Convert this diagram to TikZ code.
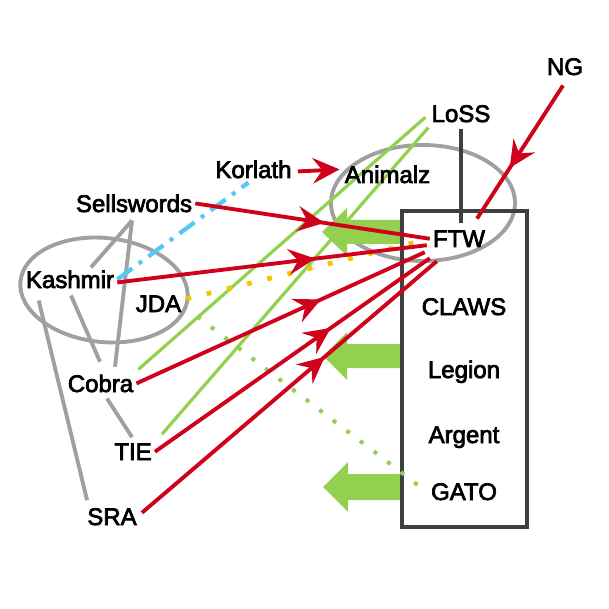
\documentclass[tikz,border=0pt]{standalone}
\usepackage{fontspec}
\setmainfont{Liberation Sans}
\newfontfamily\lblfont{Liberation Sans}[FakeBold=3]
\usetikzlibrary{arrows.meta,decorations.markings}
\definecolor{cred}{HTML}{D0021B}
\definecolor{cgreen}{HTML}{92D050}
\definecolor{cblue}{HTML}{55C8F5}
\definecolor{cyellow}{HTML}{F5C400}
\definecolor{cgray}{HTML}{A0A0A0}
\definecolor{cdark}{HTML}{404040}
\tikzset{redtip/.tip={Stealth[length=20pt,width=19pt,inset=7pt]}}
\pgfdeclarelayer{behind}
\pgfsetlayers{behind,main}
\begin{document}
\begin{tikzpicture}[x=0.75pt,y=-0.75pt,
  lbl/.style={anchor=base, inner sep=2.25pt, font=\lblfont\fontsize{18}{21}\selectfont},
  grayline/.style={draw=cgray, line width=2.9pt},
  darkline/.style={draw=cdark, line width=2.8pt},
  greenline/.style={draw=cgreen, line width=2.4pt},
  greendots/.style={draw=cgreen, line width=3pt, dash pattern=on 3pt off 9.8pt},
  yellowdots/.style={draw=cyellow, line width=3.6pt, dash pattern=on 3.6pt off 12pt},
  bluedash/.style={draw=cblue, line width=3.2pt, dash pattern=on 14pt off 6pt on 3pt off 6pt},
  redline/.style={draw=cred, line width=2.9pt},
  redmid/.style={redline, postaction={decorate},
    decoration={markings, mark=at position #1 with {\arrow{redtip}}}},
  blockarrow/.style={fill=cgreen, draw=none}
]
\useasboundingbox (0,0) rectangle (609,609);

% labels
\node[lbl] (NG) at (565,75) {NG};
\node[lbl] (LoSS) at (461,122) {LoSS};
\node[lbl] (Korlath) at (253.5,178) {Korlath};
\node[lbl] (Animalz) at (387.5,183) {Animalz};
\node[lbl] (Sellswords) at (134,212) {Sellswords};
\node[lbl] (FTW) at (459,247) {FTW};
\node[lbl] (Kashmir) at (70,288) {Kashmir};
\node[lbl] (JDA) at (158.5,312) {JDA};
\node[lbl] (CLAWS) at (464,315) {CLAWS};
\node[lbl] (Cobra) at (100.5,392) {Cobra};
\node[lbl] (Legion) at (464,378) {Legion};
\node[lbl] (TIE) at (133,460) {TIE};
\node[lbl] (Argent) at (464,443) {Argent};
\node[lbl] (GATO) at (464,500) {GATO};
\node[lbl] (SRA) at (112,525) {SRA};

\begin{pgfonlayer}{behind}
% ellipses
\draw[grayline, rotate around={-6:(104,290)}] (104,290) ellipse [x radius=84, y radius=52];
\draw[grayline] (423,203) ellipse [x radius=92, y radius=58];

% green block arrows
\fill[blockarrow] (402,220) -- (347,220) -- (347,208) -- (322,232) -- (347,256) -- (347,244) -- (402,244) -- cycle;
\fill[blockarrow] (402,344) -- (347,344) -- (347,332) -- (323,356) -- (347,380) -- (347,368) -- (402,368) -- cycle;
\fill[blockarrow] (402,474) -- (348,474) -- (348,462) -- (323,487) -- (348,512) -- (348,500) -- (402,500) -- cycle;

% box
\draw[darkline] (402,211) rectangle (527,527);

% gray relations
\draw[grayline] ([shift={(-2,5)}]Sellswords.south) -- ([shift={(21,0)}]Kashmir.north);
\draw[grayline] ([shift={(-2,5)}]Sellswords.south) -- ([shift={(14.5,-4.6)}]Cobra.north);
\draw[grayline] ([shift={(1,4)}]Kashmir.south) -- ([shift={(-0.5,-9.6)}]Cobra.north);
\draw[grayline] ([shift={(16,9)}]Kashmir.south west) -- ([shift={(3,-4.8)}]SRA.north west);
\draw[grayline] ([shift={(6.5,3)}]Cobra.south) -- ([shift={(-1,-3)}]TIE.north);

% LoSS - FTW
\draw[darkline] ([shift={(0,4)}]LoSS.south) -- ([shift={(0,-4)}]LoSS.south |- FTW.north);

% green relations
\draw[greenline] ([shift={(2,-2)}]Cobra.north east) -- ([shift={(-3,3.5)}]LoSS.west);
\draw[greenline] ([shift={(7,-6)}]TIE.north east) -- ([shift={(0,2)}]LoSS.south west);
\draw[greendots] ([shift={(13,1)}]JDA.south east) -- ([shift={(-4,-2)}]GATO.west);
\draw[yellowdots] ([shift={(2,-5)}]JDA.east) -- ([shift={(-12,3)}]FTW.west);
\draw[bluedash] (Kashmir.east) -- ([shift={(-5,1)}]Korlath.south);

% red arrows
\draw[redline, -{redtip}] ([shift={(3,2)}]Korlath.east) -- ([shift={(-2,0)}]Korlath.east -| Animalz.west);
\draw[redmid=0.55] (Sellswords.east) -- (FTW.west);
\draw[redmid=0.64] ([shift={(0,3)}]Kashmir.east) -- ([shift={(-3,6.5)}]FTW.west);
\draw[redmid=0.64] (Cobra.east) -- ([shift={(-5,13.5)}]FTW.west);
\draw[redmid=0.64] (TIE.east) -- ([shift={(0,19.5)}]FTW.west);
\draw[redmid=0.62] ([shift={(2,-4)}]SRA.east) -- ([shift={(7,22.5)}]FTW.west);
\draw[redmid=0.62] ([shift={(-2,7)}]NG.south) -- ([shift={(18,-8.6)}]FTW.north);
\end{pgfonlayer}
\end{tikzpicture}
\end{document}
